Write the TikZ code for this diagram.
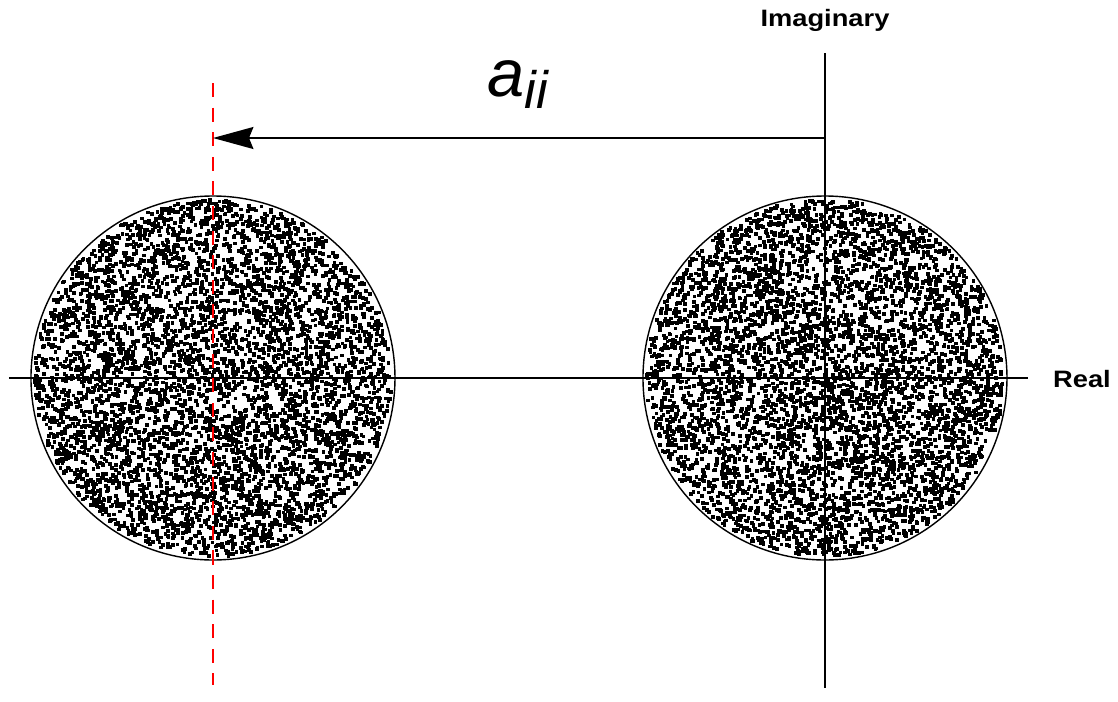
\documentclass[tikz,border=0pt]{standalone}
\usepackage{fontspec}
\setmainfont{Liberation Sans}
\newfontfamily\axisfont[FakeStretch=1.15]{Liberation Sans}
\usetikzlibrary{arrows.meta}

\begin{document}
\begin{tikzpicture}[
  axis/.style={draw=black, line width=1pt},
  disc/.style={circle, draw=black, line width=0.8pt, minimum size=7.28cm, inner sep=0pt},
  shiftline/.style={draw=red, line width=0.9pt, dash pattern=on 8pt off 6pt},
  shiftarrow/.style={draw=black, line width=1pt, -{Stealth[length=23pt, width=12.5pt, inset=2.5pt]}},
  axlbl/.style={font=\axisfont\bfseries\fontsize{13.5}{15}\selectfont, inner sep=0pt}
]
\useasboundingbox (-16.5,-6.46) rectangle (5.86,7.56);

% random points inside the two discs
\pgfmathsetseed{4711}
\begin{scope}[fill=black]
\foreach \k in {1,...,5400}{
  \pgfmathsetmacro\angA{360*rnd}
  \pgfmathsetmacro\radA{3.57*sqrt(rnd)}
  \pgfmathsetmacro\angB{360*rnd}
  \pgfmathsetmacro\radB{3.57*sqrt(rnd)}
  \fill (\angA:\radA) ++(-0.037,-0.037) rectangle ++(0.074,0.074);
  \fill ([shift={(-12.24,0)}]\angB:\radB) ++(-0.037,-0.037) rectangle ++(0.074,0.074);
}
\end{scope}

\node[disc] (rightdisc) at (0,0) {};
\node[disc] (leftdisc) at (-12.24,0) {};

\coordinate (reW) at (-16.32,0);
\coordinate (reE) at (4.06,0);
\coordinate (imN) at (0,6.5);
\coordinate (imS) at (0,-6.2);
\coordinate (shN) at (-12.24,5.9);
\coordinate (shS) at (-12.24,-6.14);
\coordinate (arrS) at (0,4.8);
\coordinate (arrE) at (-12.24,4.8);

\draw[axis] (reW) -- (reE);
\draw[axis] (imN) -- (imS);
\draw[shiftline] (shN) -- (shS);
\draw[shiftarrow] (arrS) -- (arrE);

\node[axlbl, anchor=base] (imlbl) at (0,7.04) {Imaginary};
\node[axlbl, anchor=base] (relbl) at (5.14,-0.18) {Real};
\node[anchor=base west, inner sep=0pt] (aii) at (-6.76,5.64)
  {\fontsize{38}{42}\selectfont\itshape a\raisebox{-7pt}{\fontsize{30}{32}\selectfont ii}};

\end{tikzpicture}
\end{document}
